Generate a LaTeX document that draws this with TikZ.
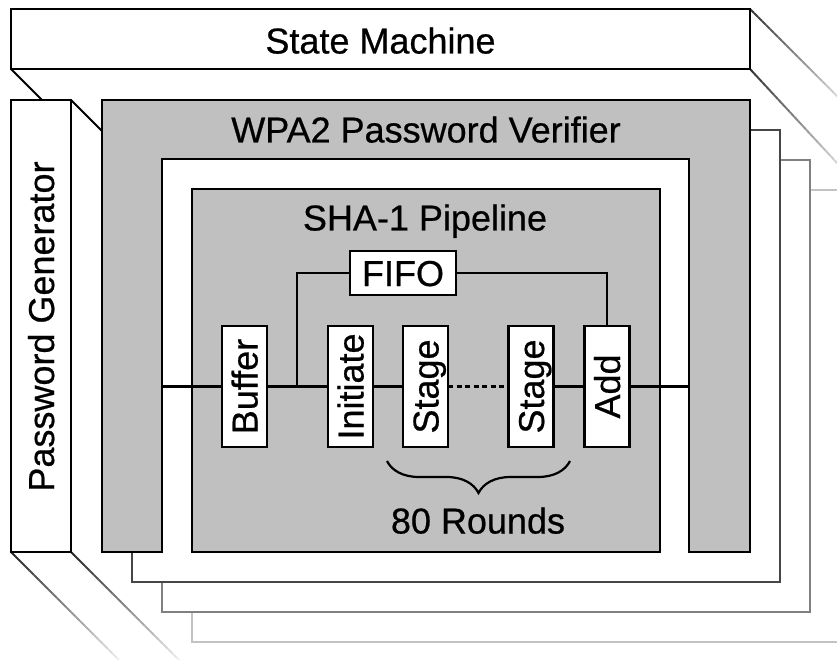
\documentclass[tikz,border=0pt]{standalone}
\usepackage{fontspec}
\setmainfont{Liberation Sans}[FakeBold=0.6]
\usetikzlibrary{decorations.pathreplacing,calc}
\definecolor{fillg}{RGB}{192,192,192}
\definecolor{layerA}{RGB}{70,70,70}
\definecolor{layerB}{RGB}{128,128,128}
\definecolor{layerC}{RGB}{195,195,195}
\newcommand{\fadeline}[4]{%
  \foreach \i [evaluate=\i as \c using {#3-(#3-#4)*\i/24}] in {0,...,24}{%
    \draw[line width=2pt, draw=black!\c] ($#1!{\i/25}!#2$) -- ($#1!{(\i+1)/25}!#2$);}}
\begin{document}
\begin{tikzpicture}[x=1pt,y=-1pt, line width=2.2pt,
  box/.style={draw, outer sep=0pt, inner sep=0pt, anchor=north west},
  lbl/.style={font=\fontsize{36}{40}\selectfont\addfontfeatures{FakeBold=0.6}, text height=26pt, text depth=0pt, inner sep=0pt, outer sep=0pt},
  vlbl/.style={lbl, rotate=90},
  comp/.style={draw, fill=white, minimum width=45pt, minimum height=121pt, inner sep=0pt, outer sep=0pt},
  conn/.style={draw, line width=2.2pt},
]
\useasboundingbox (0,0) rectangle (837,660);
\clip (0,0) rectangle (837,660);

% stacked layers behind
\draw[layerC, fill=white] (192,190) rectangle (870,642);
\draw[layerB, fill=white] (162,160) rectangle (810,612);
\draw[layerA, fill=white] (132,130) rectangle (780,582);

% perspective lines (drawn before covering boxes)
\coordinate (trA) at (850,109);
\coordinate (trB) at (850,177);
\coordinate (blA) at (126,667);
\coordinate (blB) at (186,667);
\coordinate (lsA) at (50,108);
\coordinate (lsB) at (115,144);

\coordinate (smNE) at (750,9);
\coordinate (smSE) at (750,69);
\coordinate (smSW) at (11,69);
\coordinate (pgNE) at (71,100);
\coordinate (pgSW) at (11,552);
\coordinate (pgSE) at (71,552);

\fadeline{(smNE)}{(trA)}{80}{8}
\fadeline{(smSE)}{(trB)}{80}{8}
\fadeline{(pgSW)}{(blA)}{85}{3}
\fadeline{(pgSE)}{(blB)}{85}{3}
\draw[line width=2pt] (pgNE) -- (lsB);

% WPA2 verifier
\node[box, fill=fillg, minimum width=648pt, minimum height=452pt] (wpa) at (102,100) {};
\fill[white] (162,159) rectangle (689,555);
\draw (162,553.1) -- (162,159) -- (689,159) -- (689,553.1);
\node[lbl] (wpat) at (426,129.5) {WPA2 Password Verifier};

% SHA-1 pipeline
\node[box, fill=fillg, minimum width=468pt, minimum height=363pt] (sha) at (192,189) {};
\node[lbl] (shat) at (425,217.5) {SHA-1 Pipeline};

% state machine and password generator
\draw[line width=2pt] (smSW) -- (lsA);
\node[box, fill=white, minimum width=60pt, minimum height=452pt] (pg) at (11,100) {};
\node[vlbl] (pgt) at (41,326.5) {Password Generator};
\node[box, fill=white, minimum width=739pt, minimum height=60pt] (sm) at (11,9) {};
\node[lbl] (smt) at (380.5,40.5) {State Machine};

% pipeline components
\node[comp] (buf) at (244.5,386.5) {};
\node[comp] (ini) at (350.5,386.5) {};
\node[comp] (st1) at (425.5,386.5) {};
\node[comp] (st2) at (531,386.5) {};
\node[comp] (add) at (607,386.5) {};
\node[vlbl] (buft) at (buf) {Buffer};
\node[vlbl] (init) at (ini) {Initiate};
\node[vlbl] (st1t) at (st1) {Stage};
\node[vlbl] (st2t) at (st2) {Stage};
\node[vlbl] (addt) at (add) {Add};
\node[draw, fill=white, minimum width=106pt, minimum height=44pt, inner sep=0pt, outer sep=0pt] (fifo) at (403,273) {};
\node[lbl] (fifot) at (fifo) {FIFO};

\coordinate (inL) at (162,386.5);
\coordinate (inR) at (689,386.5);
\coordinate (br) at (297,386.5);

\draw[conn] (inL) -- (buf.west);
\draw[conn] (buf.east) -- (ini.west);
\draw[conn] (ini.east) -- (st1.west);
\draw[conn, dash pattern=on 5pt off 3.5pt] (st1.east) -- (st2.west);
\draw[conn] (st2.east) -- (add.west);
\draw[conn] (add.east) -- (inR);
\draw[conn] (br) |- (fifo.west);
\draw[conn] (fifo.east) -| (add.north);

% brace
\coordinate (brL) at (387,461);
\coordinate (brR) at (570,461);
\draw[line width=2.2pt, decorate, decoration={brace, mirror, amplitude=32pt}] (brL) -- (brR);
\node[lbl] (rounds) at (478,520.5) {80 Rounds};
\end{tikzpicture}
\end{document}
